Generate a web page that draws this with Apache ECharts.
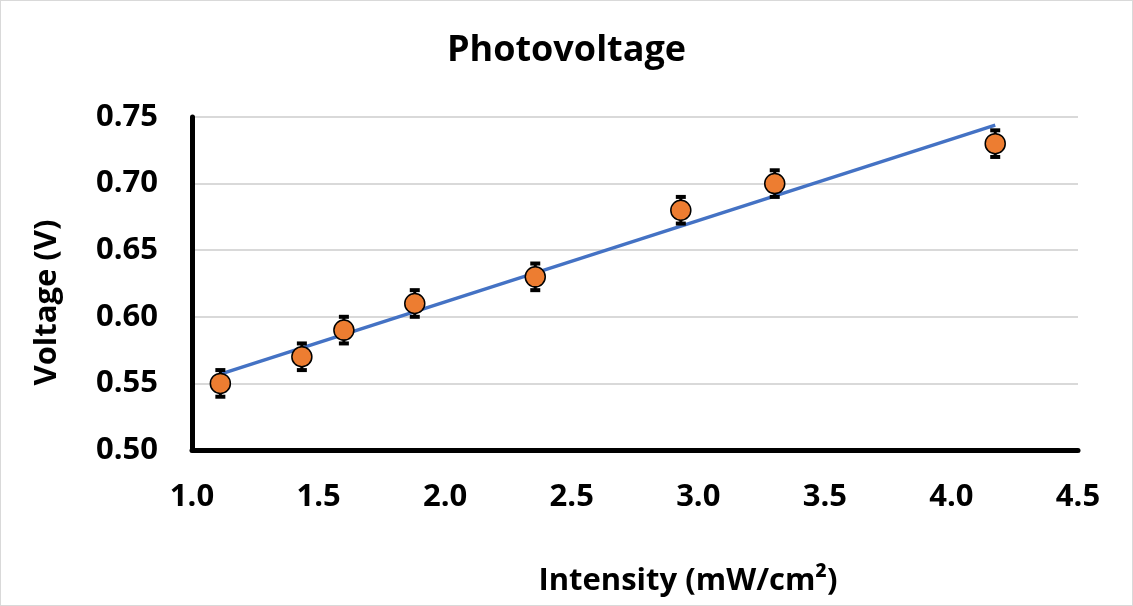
<!DOCTYPE html>
<html>
<head>
<meta charset="utf-8">
<script src="https://cdn.jsdelivr.net/npm/echarts@6/dist/echarts.min.js"></script>
<style>
html,body{margin:0;padding:0;background:#fff;}
#c{width:1133px;height:606px;box-sizing:border-box;border:1.5px solid #d9d9d9;}
</style>
</head>
<body>
<div id="c"></div>
<script>
const intensity = [1.112, 1.434, 1.600, 1.880, 2.356, 2.931, 3.302, 4.173];
const voltage   = [0.55, 0.57, 0.59, 0.61, 0.63, 0.68, 0.70, 0.73];
const voltErr   = [0.01, 0.01, 0.01, 0.01, 0.01, 0.01, 0.01, 0.01];
const xTicks = [1.0, 1.5, 2.0, 2.5, 3.0, 3.5, 4.0, 4.5];
const yTicks = [0.50, 0.55, 0.60, 0.65, 0.70, 0.75];

// least-squares trendline from the data
const n = intensity.length;
const mx = intensity.reduce((a,b)=>a+b,0)/n;
const my = voltage.reduce((a,b)=>a+b,0)/n;
let sxy=0,sxx=0;
for(let i=0;i<n;i++){sxy+=(intensity[i]-mx)*(voltage[i]-my);sxx+=(intensity[i]-mx)**2;}
const slope=sxy/sxx, icpt=my-slope*mx;
const xmin=Math.min(...intensity), xmax=Math.max(...intensity);
const trend=[[xmin,icpt+slope*xmin],[xmax,icpt+slope*xmax]];

const pts = intensity.map((x,i)=>[x,voltage[i]]);
const errData = intensity.map((x,i)=>[x,voltage[i]-voltErr[i],voltage[i]+voltErr[i]]);

const FONT='"Open Sans", sans-serif';
const chart = echarts.init(document.getElementById('c'));
chart.setOption({
  animation:false,
  backgroundColor:'#fff',
  title:{text:'Photovoltage',left:'center',top:27,
    textStyle:{fontFamily:FONT,fontWeight:'bold',fontSize:36,color:'#000'}},
  grid:{left:191,right:54,top:116,bottom:155,containLabel:false},
  xAxis:{type:'value',min:xTicks[0],max:xTicks[xTicks.length-1],interval:0.5,
    name:'Intensity (mW/cm²)',nameLocation:'middle',nameGap:116,
    nameTextStyle:{fontFamily:FONT,fontWeight:'bold',fontSize:31,color:'#000',padding:[0,0,0,106]},
    axisLine:{lineStyle:{color:'#000',width:5}},
    axisTick:{show:false},
    splitLine:{show:false},
    axisLabel:{fontFamily:FONT,fontWeight:'bold',fontSize:31,color:'#000',margin:32,
      formatter:v=>v.toFixed(1)}},
  yAxis:{type:'value',min:yTicks[0],max:yTicks[yTicks.length-1],interval:0.05,
    name:'Voltage (V)',nameLocation:'middle',nameGap:129,
    nameTextStyle:{fontFamily:FONT,fontWeight:'bold',fontSize:31,color:'#000',padding:[0,38,0,0]},
    axisLine:{show:true,lineStyle:{color:'#000',width:5}},
    axisTick:{show:false},
    splitLine:{lineStyle:{color:'#d9d9d9',width:2}},
    axisLabel:{fontFamily:FONT,fontWeight:'bold',fontSize:31,color:'#000',margin:34,
      formatter:v=>v.toFixed(2)}},
  series:[
    {type:'line',data:trend,symbol:'none',z:3,
      lineStyle:{color:'#4472C4',width:3.5}},
    {type:'custom',z:4,data:errData,
      renderItem:function(params,api){
        const x=api.value(0);
        const lo=api.coord([x,api.value(1)]);
        const hi=api.coord([x,api.value(2)]);
        const cw=5;
        return {type:'group',children:[
          {type:'line',shape:{x1:lo[0],y1:lo[1],x2:hi[0],y2:hi[1]},style:{stroke:'#000',lineWidth:3}},
          {type:'line',shape:{x1:lo[0]-cw,y1:lo[1],x2:lo[0]+cw,y2:lo[1]},style:{stroke:'#000',lineWidth:4}},
          {type:'line',shape:{x1:hi[0]-cw,y1:hi[1],x2:hi[0]+cw,y2:hi[1]},style:{stroke:'#000',lineWidth:4}}
        ]};
      }},
    {type:'scatter',data:pts,z:5,symbol:'circle',symbolSize:20,
      itemStyle:{color:'#ED7D31',opacity:1,borderColor:'#000',borderWidth:1.5}}
  ]
});
</script>
</body>
</html>
